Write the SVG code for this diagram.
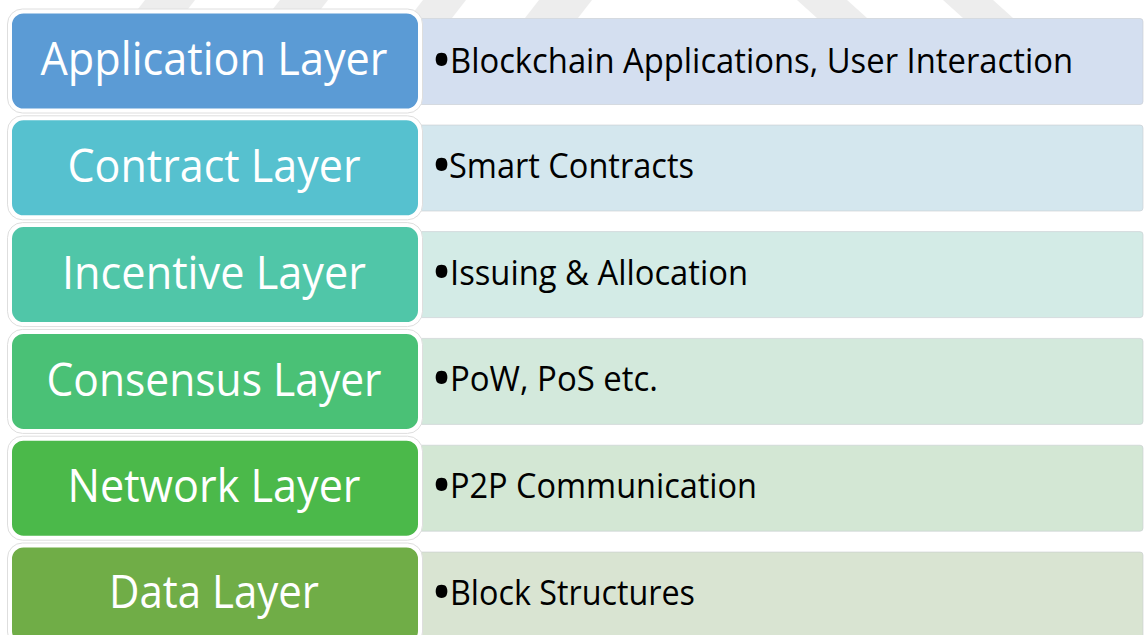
<svg xmlns="http://www.w3.org/2000/svg" width="1144" height="635" viewBox="0 0 1144 635">
  <style>
    .band { fill: #ededed; }
    .box { stroke: #ffffff; stroke-width: 3; }
    .halo { fill: #ffffff; stroke: #dedede; stroke-width: 1; }
    .panel { stroke: #c8ccd0; stroke-width: 1; stroke-opacity: 0.6; }
    .title { font-family: "Open Sans", "Noto Sans", sans-serif; font-size: 46px; fill: #ffffff; text-anchor: middle; }
    .item { font-family: "Open Sans", "Noto Sans", sans-serif; font-size: 35px; fill: #000000; }
    .dot { font-size: 56px; }
  </style>
  <rect width="1144" height="635" fill="#ffffff"/>

  <!-- faint slanted bands along the top edge -->
  <g id="top-bands">
    <polygon class="band" points="131,18 181,18 195,0 145,0"/>
    <polygon class="band" points="266,18 314,18 328,0 280,0"/>
    <polygon class="band" points="409,18 452,18 466,0 423,0"/>
    <polygon class="band" points="525,18 578,18 592,0 539,0"/>
    <polygon class="band" points="797,0 847,0 867,18 817,18"/>
    <polygon class="band" points="943,0 993,0 1013,18 963,18"/>
  </g>

  <!-- Application -->
  <g id="application-layer">
    <rect class="panel" x="417" y="18.5" width="726" height="86" rx="3" fill="#d4dff0"/>
    <rect class="halo" x="7.5" y="9" width="415" height="104" rx="15"/>
    <rect class="box" x="10.5" y="12" width="409" height="98" rx="13" fill="#5b9bd5"/>
    <text class="title" x="214" y="75" textLength="347" lengthAdjust="spacingAndGlyphs">Application Layer</text>
    <text class="item" x="431" y="73"><tspan class="dot" dy="7">•</tspan><tspan x="450" dy="-7" textLength="623" lengthAdjust="spacingAndGlyphs">Blockchain Applications, User Interaction</tspan></text>
  </g>

  <!-- Contract -->
  <g id="contract-layer">
    <rect class="panel" x="417" y="125" width="726" height="86" rx="3" fill="#d4e7ee"/>
    <rect class="halo" x="7.5" y="115.8" width="415" height="104" rx="15"/>
    <rect class="box" x="10.5" y="118.8" width="409" height="98" rx="13" fill="#56c1cf"/>
    <text class="title" x="214" y="182" textLength="293" lengthAdjust="spacingAndGlyphs">Contract Layer</text>
    <text class="item" x="431" y="178"><tspan class="dot" dy="7">•</tspan><tspan x="449" dy="-7" textLength="245" lengthAdjust="spacingAndGlyphs">Smart Contracts</tspan></text>
  </g>

  <!-- Incentive -->
  <g id="incentive-layer">
    <rect class="panel" x="417" y="231.6" width="726" height="86" rx="3" fill="#d3ebe6"/>
    <rect class="halo" x="7.5" y="222.6" width="415" height="104" rx="15"/>
    <rect class="box" x="10.5" y="225.6" width="409" height="98" rx="13" fill="#50c6a8"/>
    <text class="title" x="214" y="289" textLength="304" lengthAdjust="spacingAndGlyphs">Incentive Layer</text>
    <text class="item" x="431" y="285"><tspan class="dot" dy="7">•</tspan><tspan x="450" dy="-7" textLength="298" lengthAdjust="spacingAndGlyphs">Issuing &amp; Allocation</tspan></text>
  </g>

  <!-- Consensus -->
  <g id="consensus-layer">
    <rect class="panel" x="417" y="338.4" width="726" height="86" rx="3" fill="#d3e9dc"/>
    <rect class="halo" x="7.5" y="329.4" width="415" height="104" rx="15"/>
    <rect class="box" x="10.5" y="332.4" width="409" height="98" rx="13" fill="#4ac176"/>
    <text class="title" x="214" y="396" textLength="335" lengthAdjust="spacingAndGlyphs">Consensus Layer</text>
    <text class="item" x="431" y="391"><tspan class="dot" dy="7">•</tspan><tspan x="450" dy="-7" textLength="208" lengthAdjust="spacingAndGlyphs">PoW, PoS etc.</tspan></text>
  </g>

  <!-- Network -->
  <g id="network-layer">
    <rect class="panel" x="417" y="445.2" width="726" height="86" rx="3" fill="#d3e7d4"/>
    <rect class="halo" x="7.5" y="436.2" width="415" height="104" rx="15"/>
    <rect class="box" x="10.5" y="439.2" width="409" height="98" rx="13" fill="#4bb94a"/>
    <text class="title" x="214" y="502" textLength="293" lengthAdjust="spacingAndGlyphs">Network Layer</text>
    <text class="item" x="431" y="498"><tspan class="dot" dy="7">•</tspan><tspan x="450" dy="-7" textLength="307" lengthAdjust="spacingAndGlyphs">P2P Communication</tspan></text>
  </g>

  <!-- Data -->
  <g id="data-layer">
    <rect class="panel" x="417" y="552" width="726" height="86" rx="3" fill="#d9e4d2"/>
    <rect class="halo" x="7.5" y="543" width="415" height="104" rx="15"/>
    <rect class="box" x="10.5" y="546" width="409" height="98" rx="13" fill="#70ad47"/>
    <text class="title" x="214" y="608" textLength="210" lengthAdjust="spacingAndGlyphs">Data Layer</text>
    <text class="item" x="431" y="605"><tspan class="dot" dy="7">•</tspan><tspan x="450" dy="-7" textLength="245" lengthAdjust="spacingAndGlyphs">Block Structures</tspan></text>
  </g>
</svg>
